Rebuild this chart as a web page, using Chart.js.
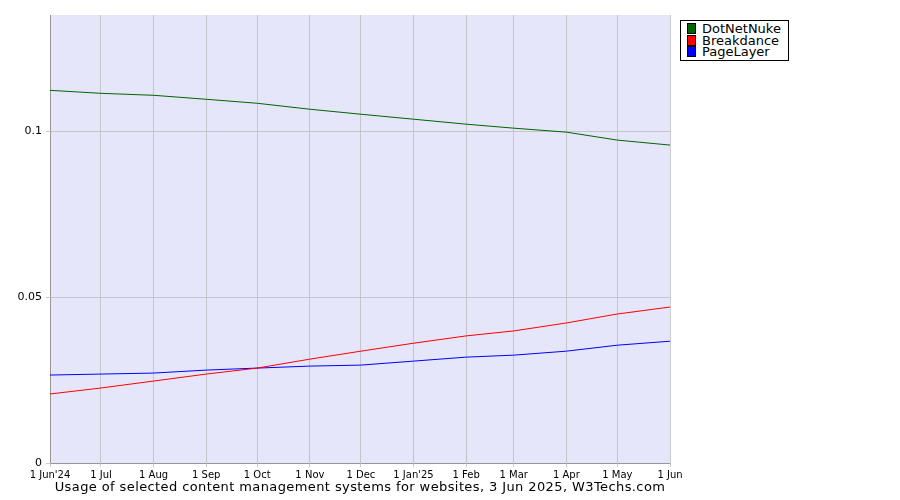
<!DOCTYPE html>
<html><head><meta charset="utf-8">
<script src="https://cdn.jsdelivr.net/npm/chart.js@4"></script>
<style>
body{margin:0;background:#fff;font-family:"DejaVu Sans",sans-serif}
#wrap{position:relative;width:900px;height:500px}
#legend{position:absolute;left:680px;top:20px;width:107px;border:1px solid #000;background:#fff;font-size:13px;line-height:11.5px;padding:2px 0 2px 0}
#legend div{padding-left:6px;height:11.5px}
#legend span{display:inline-block;width:7px;height:9px;border:1px solid #000;margin-right:6px;vertical-align:-1px}
#title{position:absolute;left:0;width:720px;top:479px;text-align:center;font-size:13px;letter-spacing:0.4px}
</style></head><body>
<div id="wrap"><canvas id="c" width="900" height="500"></canvas>
<div id="legend"></div>
<div id="title">Usage of selected content management systems for websites, 3 Jun 2025, W3Techs.com</div></div>
<script>
var days = [0,30,61,92,122,153,183,214,245,273,304,334,365];
var tickLabels = ["1 Jun'24","1 Jul","1 Aug","1 Sep","1 Oct","1 Nov","1 Dec","1 Jan'25","1 Feb","1 Mar","1 Apr","1 May","1 Jun"];
var dotnetnuke = [0.1123,0.1114,0.1108,0.1096,0.1084,0.1066,0.1051,0.1036,0.1021,0.1009,0.0997,0.0973,0.0958];
var breakdance = [0.0208,0.0226,0.0247,0.0268,0.0286,0.0313,0.0337,0.0361,0.0383,0.0398,0.0422,0.0449,0.0470];
var pagelayer = [0.0265,0.0268,0.0271,0.0280,0.0286,0.0292,0.0295,0.0307,0.0319,0.0325,0.0337,0.0355,0.0367];
var names = ['DotNetNuke','Breakdance','PageLayer'];
var colors = ['#006400','#ff0000','#0000ff'];

function pts(arr){ return arr.map(function(v,i){ return {x:days[i], y:v}; }); }

document.getElementById('legend').innerHTML = names.map(function(n,i){
  return '<div><span style="background:'+colors[i]+'"></span>'+n+'</div>';
}).join('');

var bg = {id:'bg', beforeDraw:function(ch){
  var a = ch.chartArea, c = ch.ctx;
  c.save(); c.fillStyle='#e6e6fa'; c.fillRect(a.left,a.top,a.right-a.left,a.bottom-a.top);
  c.strokeStyle='#000'; c.lineWidth=1;
  c.beginPath(); c.moveTo(a.left+0.5,a.top); c.lineTo(a.left+0.5,a.bottom+0.5); c.lineTo(a.right,a.bottom+0.5); c.stroke();
  c.restore();
}};

Chart.defaults.font.family = 'DejaVu Sans';
Chart.defaults.color = '#000';
new Chart(document.getElementById('c'), {
  type:'line',
  data:{datasets:[
    {label:names[0], data:pts(dotnetnuke), borderColor:colors[0]},
    {label:names[1], data:pts(breakdance), borderColor:colors[1]},
    {label:names[2], data:pts(pagelayer), borderColor:colors[2]}
  ]},
  options:{
    responsive:false, animation:false,
    elements:{point:{radius:0}, line:{borderWidth:1, tension:0}},
    layout:{padding:{left:0,right:230,top:15,bottom:0}},
    plugins:{legend:{display:false}, tooltip:{enabled:false}},
    scales:{
      x:{type:'linear', min:0, max:365,
        afterBuildTicks:function(s){ s.ticks = days.map(function(d){return {value:d};}); },
        afterFit:function(s){ s.height = 37; },
        ticks:{font:{size:10}, maxRotation:0, autoSkip:false, padding:2,
          callback:function(v){ var i=days.indexOf(v); return i<0?'':tickLabels[i]; }},
        grid:{color:'#bcbcbc', lineWidth:0.8, drawTicks:true, tickLength:4}, border:{display:false}},
      y:{min:0, max:0.135,
        afterBuildTicks:function(s){ s.ticks = [{value:0},{value:0.05},{value:0.1}]; },
        afterFit:function(s){ s.width = 50; },
        ticks:{font:{size:11}, padding:4, callback:function(v){ return v===0?'0':String(v); }},
        grid:{color:'#bcbcbc', lineWidth:0.8, tickLength:4}, border:{display:false}}
    }
  },
  plugins:[bg]
});
</script></body></html>
